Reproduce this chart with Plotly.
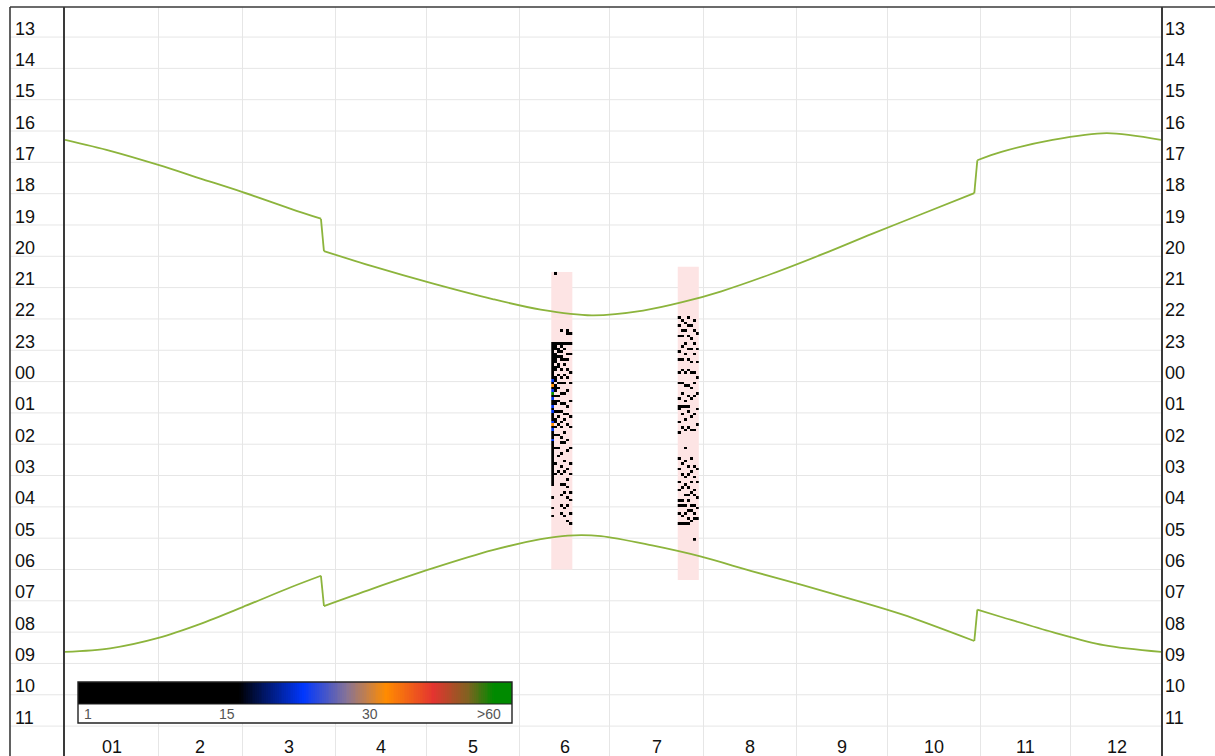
import numpy as np
import plotly.graph_objects as go

# ---------------------------------------------------------------- data
# x axis: day of year; month boundaries and labels
MONTH_START = [0, 31, 59, 90, 120, 151, 181, 212, 243, 273, 304, 334, 365]
MONTH_LABELS = ["01", "2", "3", "4", "5", "6", "7", "8", "9", "10", "11", "12"]

# y axis: clock hours from noon to noon (values above 24 are the next morning)
HOUR_VALUES = list(range(13, 36))
HOUR_LABELS = ["13", "14", "15", "16", "17", "18", "19", "20", "21", "22", "23",
               "00", "01", "02", "03", "04", "05", "06", "07", "08", "09", "10", "11"]

# sunset (local clock time, DST jumps at day 85/86 and 302/303)
SUNSET_DAY = [0, 15, 31, 45, 59, 75, 85, 86, 102, 122, 142, 158, 175, 192, 205,
              218, 235, 252, 268, 285, 302, 303, 311, 328, 346, 364]
SUNSET = ["16:17", "16:38", "17:05", "17:31", "17:57", "18:29", "18:48", "19:50",
          "20:19", "20:52", "21:22", "21:42", "21:53", "21:44", "21:28", "21:07",
          "20:33", "19:55", "19:17", "18:38", "17:59", "16:56", "16:40", "16:17",
          "16:04", "16:17"]

# sunrise (next morning, local clock time)
SUNRISE_DAY = [0, 15, 31, 45, 59, 75, 85, 86, 102, 122, 142, 158, 167, 178, 195,
               211, 228, 245, 262, 278, 302, 303, 311, 328, 345, 364]
SUNRISE = ["08:38", "08:31", "08:11", "07:44", "07:12", "06:34", "06:12", "07:10",
           "06:37", "05:58", "05:23", "05:02", "04:55", "04:56", "05:14", "05:35",
           "06:03", "06:30", "06:58", "07:26", "08:17", "07:17", "07:31", "08:00",
           "08:25", "08:38"]

# recording sessions (first night = day of year, 7 nights each)
SESSION_DAY = [161.5, 203.5]
SESSION_NIGHTS = [7, 7]
SESSION_START = ["20:30", "20:20"]
SESSION_END = ["06:00", "06:20"]

# activity per 5-minute slot, one string per night, starting at SESSION_START
# '.' = none, '#' = 1-15 calls, 'b' ~ 23, 'o' ~ 31, 'g' > 60
ACTIVITY_JUNE = [
    "." * 27 + "#" * 14 + "b#o#bg#b##b#b###bo#b###b##" + "#" * 15 + "....#...#..#.",
    "#" + "." * 26 + "###.####.##..##.###.#.##..#..##.#..#.." + "..#.....#...#....",
    "." * 27 + "#.##.#..##..#..#.#..#.#...#.#..#...#....#..#.....#...",
    "." * 22 + "#...." + "##.#.##...#..#.#...#...#..#...#.#...#.#...#....#..#...#...#...#..#....",
    "." * 27 + "#.#...#.#...#..#...#...#...#.#....#...#......#...#....#..#.....#..#...",
    "." * 22 + "##..." + "#...#.#...#..#....#.....#..#...#.....#...#......#...#..#...#..#.....#.",
    "." * 23 + "#..." + "#...#......#...#......#.....#...#.......#.....#...#......#..#....#...#",
]
ACTIVITY_JULY = [
    "." * 19 + "#..#...#.....#..#....#...#.....#.." + "#" + "#....#...#.." + "......."
    + "#...#....#..#...#.#..#...#..",
    "." * 20 + "#...#.#...#....#...#....#...#...." + "#" + "..#....#...." + "......."
    + "..#...#....#....#.#...#..#..",
    "." * 21 + "#..#....#...#......#....#.....#." + "#" + "....#...#..." + "...#..."
    + ".#.....#..#...#...#..#...#..",
    "." * 19 + "#..#...#....#...#...#.....#...#..." + "#" + ".#.....#...." + "......."
    + "...#..#....#..#.#...#..#.#..",
    "." * 22 + "#....#...#....#...#.....#...#.." + "." + "...#....#..." + "......."
    + "#....#...#...#....#.#...#...",
    "." * 19 + ".#...#....#...#......#...#....#..." + "." + "..#.....#..." + "......."
    + "...#...#....#.#...#..#.#...." + "...#",
    "." * 25 + "#.....#....#.....#.....#...." + "." + "#.....#....." + "......."
    + "....#....#.....#...#...#....",
]
ACTIVITY = [ACTIVITY_JUNE, ACTIVITY_JULY]
LEVEL = {".": np.nan, "#": 5, "b": 23, "o": 31.5, "g": 60}

# colour key
KEY_MIN, KEY_MAX = 1, 44
KEY_LABELS = ["1", "15", "30", ">60"]
COLORSCALE = [
    [0.00, "rgb(0,0,0)"],
    [0.37, "rgb(0,0,0)"],
    [0.52, "rgb(0,55,255)"],
    [0.62, "rgb(135,115,150)"],
    [0.71, "rgb(255,140,0)"],
    [0.82, "rgb(228,52,48)"],
    [0.90, "rgb(128,98,32)"],
    [0.96, "rgb(0,138,0)"],
    [1.00, "rgb(0,138,0)"],
]

# ---------------------------------------------------------------- layout
W, H = 1215, 756
ML, MR, MT, MB = 65, 54, 7, 0
PW, PH = W - ML - MR, H - MT - MB
Y_TOP = 12.04
Y_BOTTOM = 35.955
FONT = "Liberation Sans, Arial, Helvetica, sans-serif"
GREEN = "rgb(140,180,60)"
GRID = "#e6e6e6"
FRAME = "#3a3a3a"


def hours(hhmm, next_day=False):
    h, m = hhmm.split(":")
    v = int(h) + int(m) / 60
    return v + 24 if next_day or v < 12 else v


def paper_x(px):
    return (px - ML) / PW


def paper_y(py):
    return (H - MB - py) / PH


def add_sun_curve(fig, days, times, next_day):
    """Smooth pieces between clock changes, straight steps at the changes."""
    ys = [hours(t, next_day) for t in times]
    cuts = [i + 1 for i in range(len(days) - 1) if days[i + 1] - days[i] <= 1]
    bounds = [0] + cuts + [len(days)]
    for a, b in zip(bounds[:-1], bounds[1:]):
        fig.add_trace(go.Scatter(x=days[a:b], y=ys[a:b], mode="lines",
                                 line=dict(color=GREEN, width=1.8, shape="spline",
                                           smoothing=0.9),
                                 hoverinfo="skip"))
    for c in cuts:
        fig.add_trace(go.Scatter(x=days[c - 1:c + 1], y=ys[c - 1:c + 1], mode="lines",
                                 line=dict(color=GREEN, width=1.8), hoverinfo="skip"))


fig = go.Figure()

# recording sessions (background bands)
shapes = []
for d0, n, s0, s1 in zip(SESSION_DAY, SESSION_NIGHTS, SESSION_START, SESSION_END):
    shapes.append(dict(type="rect", xref="x", yref="y", x0=d0, x1=d0 + n,
                       y0=hours(s0), y1=hours(s1, True), layer="between",
                       fillcolor="rgb(253,228,228)", line=dict(width=0)))

# horizontal hour lines, across the label column too
for h in HOUR_VALUES:
    shapes.append(dict(type="line", xref="paper", yref="y", x0=paper_x(10), x1=1,
                       y0=h, y1=h, layer="below", line=dict(color=GRID, width=1)))

# outer frame: top edge and far-left edge
shapes.append(dict(type="line", xref="paper", yref="paper", x0=paper_x(10), x1=paper_x(W + 2),
                   y0=1, y1=1, line=dict(color=FRAME, width=1.6)))
shapes.append(dict(type="line", xref="paper", yref="paper", x0=paper_x(10), x1=paper_x(10),
                   y0=0, y1=1, line=dict(color=FRAME, width=1.6)))

# activity cells
for day0, start, cols in zip(SESSION_DAY, SESSION_START, ACTIVITY):
    n_rows = max(len(c) for c in cols)
    z = np.full((n_rows, len(cols)), np.nan)
    for j, col in enumerate(cols):
        for i, ch in enumerate(col.ljust(n_rows, ".")):
            z[i, j] = LEVEL[ch]
    t0 = hours(start)
    fig.add_trace(go.Heatmap(
        x=[day0 + j + 0.5 for j in range(len(cols))],
        y=[t0 + (i + 0.5) / 12 for i in range(n_rows)],
        z=z, coloraxis="coloraxis", hoverinfo="skip", xgap=0, ygap=0,
    ))

# sunset / sunrise
add_sun_curve(fig, SUNSET_DAY, SUNSET, False)
add_sun_curve(fig, SUNRISE_DAY, SUNRISE, True)

# colour key gradient
key_vals = np.linspace(KEY_MIN, KEY_MAX, 240)
step = key_vals[1] - key_vals[0]
fig.add_trace(go.Heatmap(x=key_vals, y=[0], z=[key_vals], coloraxis="coloraxis",
                         xaxis="x2", yaxis="y2", hoverinfo="skip"))

KEY_X0, KEY_X1 = 78, 512
KEY_Y0, KEY_YM, KEY_Y1 = 682, 704, 723
shapes.append(dict(type="rect", xref="paper", yref="paper",
                   x0=paper_x(KEY_X0), x1=paper_x(KEY_X1),
                   y0=paper_y(KEY_Y1), y1=paper_y(KEY_YM), layer="above",
                   fillcolor="white", line=dict(width=0)))
shapes.append(dict(type="rect", xref="paper", yref="paper",
                   x0=paper_x(KEY_X0), x1=paper_x(KEY_X1),
                   y0=paper_y(KEY_Y1), y1=paper_y(KEY_Y0), layer="above",
                   fillcolor="rgba(0,0,0,0)", line=dict(color="#222", width=1.4)))
shapes.append(dict(type="line", xref="paper", yref="paper",
                   x0=paper_x(KEY_X0), x1=paper_x(KEY_X1),
                   y0=paper_y(KEY_YM), y1=paper_y(KEY_YM), layer="above",
                   line=dict(color="#222", width=1)))

annotations = []
# hour labels, left and right
for h, lab in zip(HOUR_VALUES, HOUR_LABELS):
    for xp in (paper_x(13), paper_x(1163)):
        annotations.append(dict(x=xp, xref="paper", y=h - 0.27, yref="y", text=lab,
                                xanchor="left", yanchor="middle", showarrow=False,
                                font=dict(family=FONT, size=18, color="#111")))
# month labels in the bottom row
for i, lab in enumerate(MONTH_LABELS):
    annotations.append(dict(x=(MONTH_START[i] + MONTH_START[i + 1]) / 2, xref="x",
                            y=35.67, yref="y", text=lab, xanchor="center", yanchor="middle",
                            showarrow=False, font=dict(family=FONT, size=18, color="#111")))
# key labels (positions along the key box, in pixels)
key_label_px = [82, 227, 370, 503]
key_anchor = ["left", "center", "center", "right"]
for kx, lab, anc in zip(key_label_px, KEY_LABELS, key_anchor):
    annotations.append(dict(x=paper_x(kx), xref="paper", y=paper_y(714), yref="paper",
                            text=lab, xanchor=anc, yanchor="middle", showarrow=False,
                            font=dict(family=FONT, size=14, color="#555")))

fig.update_layout(
    width=W, height=H,
    margin=dict(l=ML, r=MR, t=MT, b=MB, pad=0),
    paper_bgcolor="white", plot_bgcolor="white",
    showlegend=False,
    xaxis=dict(range=[0, 364], tickvals=MONTH_START[1:-1], showticklabels=False, ticks="",
               showgrid=True, gridcolor=GRID, gridwidth=1, zeroline=False, showline=False),
    yaxis=dict(range=[Y_BOTTOM, Y_TOP], showticklabels=False, ticks="", showgrid=False,
               zeroline=False, showline=True, mirror=True, linecolor=FRAME, linewidth=1.6),
    xaxis2=dict(domain=[paper_x(KEY_X0), paper_x(KEY_X1)], anchor="y2",
                range=[key_vals[0] - step / 2, key_vals[-1] + step / 2], visible=False),
    yaxis2=dict(domain=[paper_y(KEY_YM), paper_y(KEY_Y0)], anchor="x2",
                range=[-0.5, 0.5], visible=False),
    coloraxis=dict(cmin=KEY_MIN, cmax=KEY_MAX, colorscale=COLORSCALE, showscale=False),
    shapes=shapes,
    annotations=annotations,
)

fig.write_html("out.html")
